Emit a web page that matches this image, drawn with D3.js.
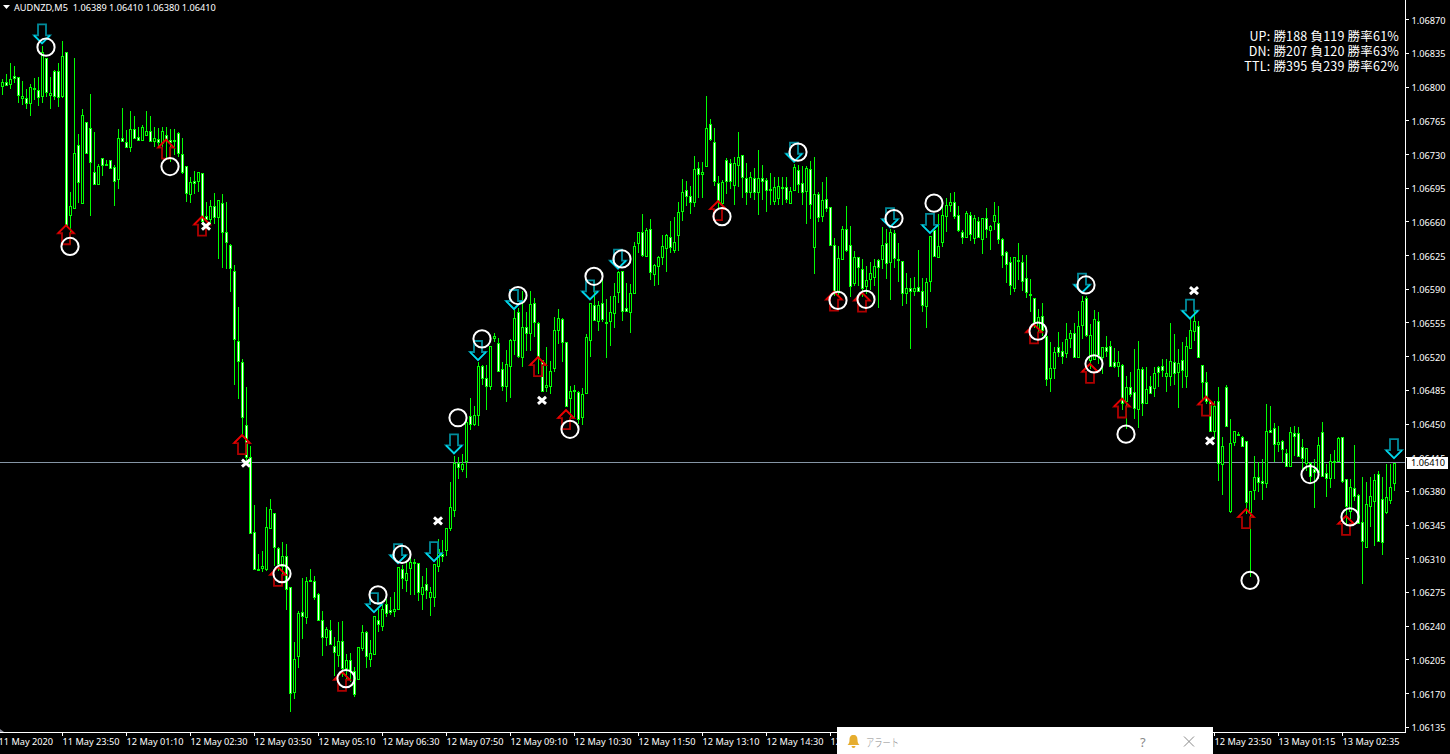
<!DOCTYPE html>
<html><head><meta charset="utf-8"><title>AUDNZD,M5</title>
<script src="https://cdn.jsdelivr.net/npm/d3@7/dist/d3.min.js"></script>
<style>html,body{margin:0;padding:0;background:#000;overflow:hidden}svg{display:block}
.lab{font-family:"Noto Sans",sans-serif;font-size:9.2px;fill:#fff}
</style></head><body>
<svg id="c" width="1450" height="754"></svg>
<script>
// All prices are in points above 1.06000 (1 point = 0.00001)
const symbolLabel = "AUDNZD,M5  1.06389 1.06410 1.06380 1.06410";
const opens = [
801,805,803,812,811,789,789,784,799,797,
791,830,792,817,817,791,836,667,674,740,
680,764,758,712,699,726,720,724,717,705,
747,743,738,757,748,745,750,754,744,746,
742,750,745,745,752,731,718,689,702,702,
711,666,663,676,665,680,650,636,609,536,
514,449,416,338,299,300,299,342,358,321,
302,313,281,172,209,255,250,288,287,273,
246,229,236,219,210,225,196,205,193,185,
217,234,206,211,246,240,263,257,256,258,
299,288,300,307,306,273,284,270,270,302,
315,319,342,361,409,403,412,458,450,459,
510,498,489,539,534,507,489,510,537,566,
520,551,545,576,555,517,488,490,508,548,
559,535,477,485,483,457,482,537,574,557,
576,556,557,565,587,609,571,566,586,638,
649,625,653,606,614,624,633,644,631,646,
671,693,687,681,716,710,718,762,743,700,
680,724,721,698,719,729,706,691,706,691,
706,703,694,682,685,696,696,680,693,714,
700,692,715,634,689,666,684,675,636,588,
621,653,636,596,623,611,593,601,603,620,
621,638,618,648,621,619,586,591,588,592,
588,573,599,652,623,639,666,678,681,667,
650,644,667,643,661,642,664,652,661,659,
642,629,618,591,620,618,602,585,581,550,
562,541,498,508,530,526,524,539,545,520,
553,581,517,518,557,520,530,531,514,510,
511,474,488,483,466,507,472,489,487,509,
510,500,500,514,504,517,500,529,547,552,
511,494,474,443,474,408,488,360,431,440,
437,432,359,381,395,391,389,444,446,429,
432,420,406,441,441,426,410,410,403,400,
442,399,394,412,412,436,393,360,384,376,
348,322,365,370,398,372,359,371,389];
const highs = [
808,814,825,822,811,806,798,803,810,811,
843,830,811,818,825,848,837,691,830,751,
777,764,793,753,720,726,724,724,719,757,
778,755,775,770,759,761,775,770,759,758,
759,759,756,756,753,747,718,707,713,712,
711,681,683,690,683,689,681,637,615,572,
518,488,427,366,315,318,364,372,358,322,
327,325,281,223,256,290,291,299,292,274,
256,239,246,229,244,245,211,212,198,218,
241,235,226,251,258,263,268,270,275,301,
304,307,315,310,306,292,300,281,305,331,
330,342,390,417,416,419,457,477,469,514,
511,511,531,545,539,514,527,538,569,571,
588,566,588,581,556,517,530,515,561,569,
560,535,489,491,484,487,544,576,600,578,
608,580,583,597,609,609,597,595,639,650,
668,654,663,616,625,646,647,661,665,681,
705,702,697,728,722,722,791,767,758,708,
704,726,725,727,753,729,721,712,716,735,
719,706,711,707,707,707,707,696,720,719,
718,718,723,727,691,701,707,675,643,635,
656,677,656,630,624,621,614,618,621,621,
655,653,653,652,638,619,607,602,603,631,
602,602,645,655,668,678,685,690,691,676,
652,671,670,667,665,664,674,657,681,677,
643,630,624,624,638,626,626,601,581,570,
576,545,535,530,546,535,555,548,555,567,
583,583,554,568,566,530,541,536,529,526,
512,500,504,528,536,509,509,500,509,510,
518,518,555,544,528,535,540,559,567,557,
511,504,474,474,488,437,491,455,443,442,
438,432,380,417,411,414,471,469,451,448,
433,424,447,448,447,434,425,411,414,437,
452,408,419,423,437,436,393,393,428,377,
395,390,395,398,401,395,408,408,410];
const lows = [
792,801,798,804,783,781,777,770,787,780,
784,790,777,787,779,789,656,637,674,680,
680,732,666,699,698,708,718,716,677,694,
743,737,733,747,744,745,750,743,738,737,
735,725,722,730,727,710,681,680,689,691,
657,661,658,658,621,612,611,587,491,476,
437,411,337,298,297,296,297,341,302,297,
294,257,151,164,197,227,242,286,267,245,
209,219,220,188,198,187,182,182,166,184,
214,196,198,210,234,235,249,252,249,258,
279,275,272,272,266,257,268,251,260,296,
307,313,339,353,393,400,394,444,448,448,
491,465,485,535,504,484,473,477,522,519,
509,526,526,540,502,483,483,481,504,533,
514,468,455,455,450,449,481,520,557,547,
556,519,531,550,576,557,566,545,585,628,
624,624,600,593,594,615,608,628,628,630,
661,676,668,675,685,685,717,744,697,673,
678,689,694,678,696,685,678,685,683,667,
683,670,678,678,678,678,680,679,692,690,
678,658,663,606,660,660,670,635,583,582,
621,629,582,593,593,582,585,589,593,571,
611,601,579,612,598,573,575,528,583,587,
566,550,587,624,623,634,649,670,663,650,
637,644,640,637,643,627,643,631,652,637,
612,597,584,587,600,588,581,566,550,545,
541,489,483,497,520,512,519,529,519,519,
538,540,507,517,512,502,520,509,508,499,
465,445,478,455,446,458,471,481,478,488,
499,483,489,491,467,487,487,528,536,519,
476,471,442,434,391,376,447,358,427,438,
427,356,291,371,379,371,384,441,411,421,
410,405,405,417,416,400,401,390,363,393,
395,374,384,393,411,389,346,351,370,346,
284,321,343,323,327,314,357,367,380];
const closes = [
805,802,808,810,792,791,784,800,798,790,
837,795,794,791,790,832,657,677,732,701,
771,732,722,699,718,719,719,716,702,747,
744,738,757,747,745,759,754,744,747,743,
754,746,743,744,732,712,690,701,700,712,
661,663,676,665,683,650,639,612,538,515,
457,416,337,299,298,302,343,362,322,305,
313,279,171,206,254,251,287,287,270,246,
229,237,221,213,225,196,205,193,170,218,
234,209,212,251,242,258,254,255,258,301,
290,295,307,306,275,281,278,275,305,320,
313,342,364,409,405,408,452,450,459,510,
498,489,531,541,505,489,512,537,560,521,
551,545,575,556,520,484,491,505,548,560,
535,469,484,484,455,481,540,576,558,574,
559,555,566,583,608,567,567,586,635,649,
626,652,608,615,623,635,646,634,639,670,
691,687,681,715,710,712,758,746,702,681,
701,702,702,721,727,707,691,707,691,706,
702,693,693,696,697,695,684,692,717,699,
691,716,679,689,665,683,674,636,588,622,
653,631,593,624,613,591,600,607,614,613,
636,617,649,622,620,586,591,588,591,588,
574,598,645,625,635,667,678,681,666,652,
644,669,647,664,644,664,653,656,667,642,
626,616,594,623,619,599,587,584,556,561,
548,497,508,525,525,521,538,545,520,552,
578,542,542,559,522,530,526,510,510,514,
472,488,481,467,507,472,486,482,503,504,
506,503,515,503,513,506,531,548,557,520,
494,474,443,469,410,427,448,430,443,439,
427,369,380,395,390,389,443,442,429,431,
424,406,442,438,417,415,425,396,400,428,
396,394,412,411,435,391,365,385,375,347,
328,367,375,392,328,327,374,385,410];

const downBars   = [10,93,99,108,113,119,128,147,154,198,222,232,270,297,348];
const downPrices = [846,255,306,308,420,517,570,580,612,723,655,649,587,560,415];
const upBars     = [16,41,50,60,69,85,134,141,179,208,215,258,272,280,301,311,336];
const upPrices   = [657,746,666,439,302,193,520,465,682,588,587,554,513,477,479,362,355];
const winBars    = [11,17,42,70,86,94,100,114,120,129,142,148,155,180,199,209,216,223,233,259,271,273,281,312,327,337];
const winPrices  = [842,635,718,295,186,273,315,457,539,584,445,604,622,666,733,579,580,664,680,547,595,513,440,288,398,354];
const lossBars   = [51,61,109,135,298,302];
const lossPrices = [656,410,350,475,589,433];

const priceTicks = [870,835,800,765,730,695,660,625,590,555,520,485,450,415,380,345,310,275,240,205,170,135];
// Labels the alert window hides in the reference are not drawn; only "12" of the 207 bar label shows.
const timeTickBars = [-1,15,31,47,63,79,95,111,127,143,159,175,191,207,303,319,335];
const timeLabels = ["11 May 2020","11 May 23:50","12 May 01:10","12 May 02:30","12 May 03:50","12 May 05:10","12 May 06:30","12 May 07:50","12 May 09:10","12 May 10:30","12 May 11:50","12 May 13:10","12 May 14:30","12","12 May 23:50","13 May 01:15","13 May 02:35"];
const lastPrice = 410;
const statLines = ["UP: 勝188 負119 勝率61%","DN: 勝207 負120 勝率63%","TTL: 勝395 負239 勝率62%"];
const alertTitle = "アラート";

const svg = d3.select("#c");
const W = 1450, H = 754, axisX = 1405, axisY = 732;
const x = d3.scaleLinear().domain([0, 348]).range([2.5, 1394.5]);
const y = d3.scaleLinear().domain([870, 135]).range([19.75, 727.2]);
const fmt = p => (1.06 + p / 1e5).toFixed(5);
const GREEN = "#00ff00";

svg.append("rect").attr("width", W).attr("height", H).attr("fill", "#000");
const clip = svg.append("defs").append("clipPath").attr("id", "plot");
clip.append("rect").attr("width", axisX).attr("height", axisY);
const plot = svg.append("g").attr("clip-path", "url(#plot)");

// last price line
plot.append("rect").attr("x", 0).attr("width", axisX).attr("y", Math.floor(y(lastPrice))).attr("height", 1).attr("fill", "#8595a5");

// candles
const candles = plot.append("g").attr("shape-rendering", "crispEdges");
const bars = d3.range(opens.length);
candles.selectAll("rect.w").data(bars).join("rect").attr("class", "w")
  .attr("x", i => x(i) - 0.5).attr("width", 1)
  .attr("y", i => Math.round(y(highs[i])))
  .attr("height", i => Math.max(1, Math.round(y(lows[i])) - Math.round(y(highs[i]))))
  .attr("fill", GREEN);
candles.selectAll("rect.b").data(bars).join("rect").attr("class", "b")
  .attr("x", i => x(i) - 1)
  .attr("width", 2)
  .attr("y", i => Math.round(y(Math.max(opens[i], closes[i]))) + 0.5)
  .attr("height", i => Math.max(1, Math.round(y(Math.min(opens[i], closes[i]))) - Math.round(y(Math.max(opens[i], closes[i])))))
  .attr("fill", i => closes[i] >= opens[i] ? "#000" : "#fff")
  .attr("stroke", GREEN).attr("stroke-width", 1);

// arrows
const arrowOutline = "M0,0L8,-8L4,-8L4,-19L-4,-19L-4,-8L-8,-8Z";
const arrows = plot.append("g").attr("fill", "none").attr("stroke-linejoin", "miter");
function drawArrow(g, dark, bright, flip) {
  g.append("path").attr("d", arrowOutline).attr("stroke", dark).attr("stroke-width", 1.8).attr("transform", flip ? "scale(1,-1)" : null);
  g.append("path").attr("d", "M-8,-8L0,0L8,-8").attr("stroke", bright).attr("stroke-width", 1.6).attr("transform", flip ? "scale(1,-1)" : null);
}
downBars.forEach((b, k) => drawArrow(arrows.append("g").attr("transform", `translate(${x(b) - 0.5},${y(downPrices[k]) + 0.5})`), "#008c9c", "#00d8ec", false));
upBars.forEach((b, k) => drawArrow(arrows.append("g").attr("transform", `translate(${x(b) - 0.5},${y(upPrices[k]) + 0.5})`), "#b00000", "#e80000", true));

// outcome markers
plot.append("g").selectAll("circle").data(winBars).join("circle")
  .attr("cx", (b) => x(b) - 0.5).attr("cy", (b, k) => y(winPrices[k]) + 0.5).attr("r", 8.6)
  .attr("fill", "none").attr("stroke", "#fff").attr("stroke-width", 2);
const crosses = plot.append("g").attr("stroke", "#fff").attr("stroke-width", 3);
lossBars.forEach((b, k) => {
  const cx = x(b) - 0.5, cy = y(lossPrices[k]) + 0.5;
  crosses.append("path").attr("d", `M${cx - 4},${cy - 3.5}L${cx + 4},${cy + 3.5}M${cx - 4},${cy + 3.5}L${cx + 4},${cy - 3.5}`);
});

// axes
const yAxis = d3.axisRight(y).tickValues(priceTicks).tickFormat(fmt).tickSize(3).tickPadding(3).offset(0);
const ya = svg.append("g").attr("transform", `translate(${axisX + 0.5},0)`).call(yAxis);
const xAxis = d3.axisBottom(x).tickValues(timeTickBars).tickFormat(b => timeLabels[timeTickBars.indexOf(b)]).tickSize(3).tickPadding(2).offset(0);
const xa = svg.append("g").attr("transform", `translate(0,${axisY + 0.5})`).call(xAxis);
[ya, xa].forEach(a => {
  a.select(".domain").remove();
  a.selectAll("line").attr("stroke", "#fff").attr("shape-rendering", "crispEdges");
  a.selectAll("text").attr("class", "lab").attr("fill", "#fff");
});
ya.selectAll("text").attr("dy", "0.38em").attr("y", 0.5);
xa.selectAll("text").attr("text-anchor", "start").attr("y", 5).attr("dy", "0.85em");
xa.selectAll(".tick").filter(b => b === -1).select("line").remove();
svg.append("rect").attr("x", axisX).attr("y", 0).attr("width", 1).attr("height", axisY + 1).attr("fill", "#fff");
svg.append("rect").attr("x", 0).attr("y", axisY).attr("width", axisX + 1).attr("height", 1).attr("fill", "#fff");
svg.append("path").attr("d", "M0,729L4,732L0,732Z").attr("fill", "#889");

// current price box
svg.append("rect").attr("x", 1407).attr("y", 457).attr("width", 41).attr("height", 12).attr("fill", "#fff");
svg.append("text").attr("class", "lab").attr("x", 1411).attr("y", y(lastPrice) + 3.5).style("fill", "#000").text(fmt(lastPrice));

// header
svg.append("path").attr("d", "M3,5L10,5L6.5,9Z").attr("fill", "#fff");
svg.append("text").attr("class", "lab").attr("x", 14).attr("y", 11).attr("xml:space", "preserve").style("white-space", "pre").text(symbolLabel);

// statistics
svg.append("g").selectAll("text").data(statLines).join("text")
  .attr("x", 1399).attr("y", (d, k) => 41 + 15 * k).attr("text-anchor", "end")
  .attr("font-family", '"Noto Sans CJK JP"').attr("font-size", 12.5).attr("font-weight", 400).attr("letter-spacing", "0.2px").attr("fill", "#fff").text(d => d);

// alert window
const pop = svg.append("g");
pop.append("rect").attr("x", 837).attr("y", 727).attr("width", 376).attr("height", 27).attr("fill", "#fff");
pop.append("path").attr("d", "M853.5,735c-3,0 -4,2 -4,5c0,3 -1,4 -2,5h12c-1,-1 -2,-2 -2,-5c0,-3 -1,-5 -4,-5zM851.5,746a2,2 0 0 0 4,0z").attr("fill", "#e6ad2e");
pop.append("text").attr("x", 866).attr("y", 747).attr("font-family", '"Noto Sans CJK JP"').attr("font-size", 11).attr("font-weight", 300)
  .attr("textLength", 33).attr("lengthAdjust", "spacingAndGlyphs").attr("fill", "#8a8a8a").text(alertTitle);
pop.append("text").attr("x", 1140).attr("y", 747).attr("font-family", '"Noto Sans"').attr("font-size", 13).attr("fill", "#8a8a8a").text("?");
pop.append("path").attr("d", "M1184,736.5L1194,746.5M1184,746.5L1194,736.5").attr("stroke", "#8a8a8a").attr("stroke-width", 1);
</script></body></html>
